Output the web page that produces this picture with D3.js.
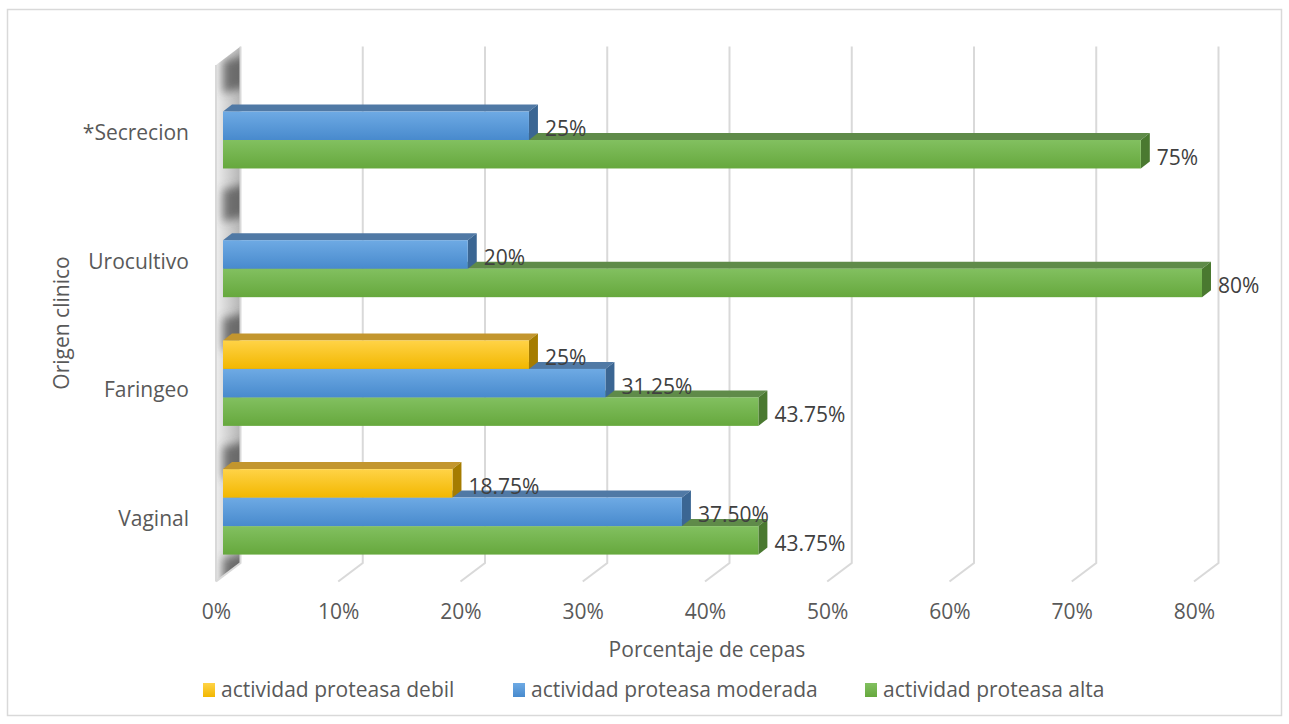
<!DOCTYPE html>
<html>
<head>
<meta charset="utf-8">
<script src="https://cdn.jsdelivr.net/npm/d3@7"></script>
<style>
  html, body { margin: 0; padding: 0; background: #ffffff; }
  svg { display: block; font-family: "Open Sans", "Noto Sans", sans-serif; }
</style>
</head>
<body>
<svg id="chart" width="1289" height="724"></svg>
<script>
// ---- data ----
const categories = ["*Secrecion", "Urocultivo", "Faringeo", "Vaginal"];
const seriesKeys = ["debil", "moderada", "alta"];
const seriesNames = ["actividad proteasa debil", "actividad proteasa moderada", "actividad proteasa alta"];
const debilValues = [null, null, 25, 18.75];
const moderadaValues = [25, 20, 31.25, 37.5];
const altaValues = [75, 80, 43.75, 43.75];
const debilLabels = [null, null, "25%", "18.75%"];
const moderadaLabels = ["25%", "20%", "31.25%", "37.50%"];
const altaLabels = ["75%", "80%", "43.75%", "43.75%"];
const tickValues = [0, 10, 20, 30, 40, 50, 60, 70, 80];
const tickLabels = ["0%", "10%", "20%", "30%", "40%", "50%", "60%", "70%", "80%"];
const xTitle = "Porcentaje de cepas";
const yTitle = "Origen clinico";

// ---- styles ----
const palette = {
  debil:    { top: "#ffd347", bottom: "#f2b700", cap: "#c3962e", side: "#a57c00" },
  moderada: { top: "#6eaae4", bottom: "#488acd", cap: "#5079a5", side: "#3b6693" },
  alta:     { top: "#82c060", bottom: "#66a83d", cap: "#5f8b49", side: "#4a7930" }
};
const values = { debil: debilValues, moderada: moderadaValues, alta: altaValues };
const labels = { debil: debilLabels, moderada: moderadaLabels, alta: altaLabels };

const svg = d3.select("#chart");
const defs = svg.append("defs");

// outer frame
svg.append("rect")
  .attr("x", 7.5).attr("y", 9.5).attr("width", 1274).attr("height", 706)
  .attr("fill", "#ffffff").attr("stroke", "#d9d9d9").attr("stroke-width", 1.5);

// ---- scales ----
const domainMax = 80;
const xFront = d3.scaleLinear().domain([0, domainMax]).range([216, 1194]);
const xBack  = d3.scaleLinear().domain([0, domainMax]).range([240.5, 1218.5]);
const xBar   = d3.scaleLinear().domain([0, domainMax]).range([223, 1202]);
const yCat = d3.scaleBand().domain(categories).range([61.4, 576.2])
  .paddingInner(0.336).paddingOuter(0.168);
const ySer = d3.scaleBand().domain(seriesKeys).range([0, yCat.bandwidth()]);

// floor/back-wall depth (front -> back) and bar depth
const floorDx = 24.5, floorDy = -18.5;
const barDx = 9, barDy = -7;
const wallTop = 46.5, floorBackY = 563;

// ---- gradients ----
seriesKeys.forEach(k => {
  const g = defs.append("linearGradient").attr("id", "grad-" + k)
    .attr("x1", 0).attr("y1", 0).attr("x2", 0).attr("y2", 1);
  g.append("stop").attr("offset", "0%").attr("stop-color", palette[k].top);
  g.append("stop").attr("offset", "100%").attr("stop-color", palette[k].bottom);
});
const wallGrad = defs.append("linearGradient").attr("id", "wall-grad")
  .attr("gradientUnits", "userSpaceOnUse")
  .attr("x1", 216).attr("y1", 0).attr("x2", 241).attr("y2", 0);
wallGrad.append("stop").attr("offset", "0%").attr("stop-color", "#eeeeee");
wallGrad.append("stop").attr("offset", "40%").attr("stop-color", "#d6d6d6");
wallGrad.append("stop").attr("offset", "100%").attr("stop-color", "#b4b4b4");
defs.append("filter").attr("id", "soft").attr("x", "-50%").attr("y", "-50%")
  .attr("width", "200%").attr("height", "200%")
  .append("feGaussianBlur").attr("stdDeviation", 4);

// ---- back gridlines with floor segments ----
const grid = svg.append("g").attr("fill", "none").attr("stroke", "#d9d9d9").attr("stroke-width", 2);
grid.selectAll("path").data(tickValues.slice(1)).join("path")
  .attr("d", v => `M${xBack(v)},${wallTop} L${xBack(v)},${floorBackY} L${xBack(v) - floorDx},${floorBackY - floorDy}`);

// ---- left side wall ----
const wallPts = [
  [xFront(0), wallTop - floorDy], [xBack(0), wallTop],
  [xBack(0), floorBackY], [xFront(0), floorBackY - floorDy]
];
defs.append("clipPath").attr("id", "wall-clip")
  .append("polygon").attr("points", wallPts.map(p => p.join(",")).join(" "));
const wall = svg.append("g");
wall.append("polygon").attr("points", wallPts.map(p => p.join(",")).join(" "))
  .attr("fill", "url(#wall-grad)");
// soft shadows cast on the wall above each group of bars and below the last one
const shade = wall.append("g").attr("clip-path", "url(#wall-clip)")
  .append("g").attr("filter", "url(#soft)");
const shadowBands = categories.map(c => [yCat(c) - 22, yCat(c) + 10]);
const lastCat = categories[categories.length - 1];
shadowBands.push([yCat(lastCat) + yCat.bandwidth() + 4, floorBackY - floorDy + 10]);
shade.selectAll("polygon").data(shadowBands).join("polygon")
  .attr("points", d => [
    [223, d[0]], [248, d[0] - 6], [248, d[1] - 6], [223, d[1]]
  ].map(p => p.join(",")).join(" "))
  .attr("fill", "#505050").attr("opacity", 0.75);
wall.append("line")
  .attr("x1", xFront(0)).attr("x2", xFront(0))
  .attr("y1", wallTop - floorDy).attr("y2", floorBackY - floorDy)
  .attr("stroke", "#d9d9d9").attr("stroke-width", 2);
wall.append("path")
  .attr("d", `M${xBack(0)},${wallTop} L${xBack(0)},${floorBackY} L${xFront(0)},${floorBackY - floorDy}`)
  .attr("fill", "none").attr("stroke", "#d9d9d9").attr("stroke-width", 2);

// ---- 3D bars (lowest series first so upper faces sit in front) ----
const bars = svg.append("g");
["alta", "moderada", "debil"].forEach(k => {
  categories.forEach((c, i) => {
    const v = values[k][i];
    if (v == null) return;
    const x0 = xBar(0), x1 = xBar(v);
    const yT = yCat(c) + ySer(k), yB = yT + ySer.bandwidth();
    const g = bars.append("g");
    g.append("polygon")
      .attr("points", [[x0, yT], [x1, yT], [x1 + barDx, yT + barDy], [x0 + barDx, yT + barDy]].map(p => p.join(",")).join(" "))
      .attr("fill", palette[k].cap);
    g.append("polygon")
      .attr("points", [[x1, yT], [x1 + barDx, yT + barDy], [x1 + barDx, yB + barDy], [x1, yB]].map(p => p.join(",")).join(" "))
      .attr("fill", palette[k].side);
    g.append("rect")
      .attr("x", x0).attr("y", yT).attr("width", x1 - x0).attr("height", yB - yT)
      .attr("fill", `url(#grad-${k})`);
  });
});

// ---- data labels ----
const labelG = svg.append("g").attr("font-size", 21).attr("fill", "#404040");
seriesKeys.forEach(k => {
  categories.forEach((c, i) => {
    const v = values[k][i];
    if (v == null) return;
    labelG.append("text")
      .attr("x", xBar(v) + 16)
      .attr("y", yCat(c) + ySer(k) + ySer.bandwidth() / 2 + 3)
      .attr("dy", "0.35em")
      .text(labels[k][i]);
  });
});

// ---- x axis tick labels ----
const xAxis = d3.axisBottom(xFront).tickValues(tickValues)
  .tickFormat((d, i) => tickLabels[i]).tickSize(0).tickPadding(23);
const xg = svg.append("g").attr("transform", `translate(0,${floorBackY - floorDy})`).call(xAxis);
xg.select(".domain").remove();
xg.selectAll("text").attr("font-size", 21).attr("fill", "#595959")
  .attr("font-family", "Open Sans, Noto Sans, sans-serif");

// ---- category labels ----
const yAxis = d3.axisLeft(yCat).tickSize(0).tickPadding(0);
const yg = svg.append("g").attr("transform", "translate(189,7.5)").call(yAxis);
yg.select(".domain").remove();
yg.selectAll("text").attr("font-size", 21).attr("fill", "#595959")
  .attr("font-family", "Open Sans, Noto Sans, sans-serif");

// ---- axis titles ----
svg.append("text").attr("x", 707).attr("y", 650).attr("dy", "0.35em")
  .attr("text-anchor", "middle").attr("font-size", 21).attr("fill", "#595959").text(xTitle);
svg.append("text").attr("transform", "translate(62,323) rotate(-90)").attr("dy", "0.35em")
  .attr("text-anchor", "middle").attr("font-size", 21).attr("fill", "#595959").text(yTitle);

// ---- legend ----
const legendX = [203, 513, 865];
const legend = svg.append("g").selectAll("g").data(seriesKeys).join("g")
  .attr("transform", (d, i) => `translate(${legendX[i]},690)`);
legend.append("rect").attr("x", 0).attr("y", -7).attr("width", 12).attr("height", 14)
  .attr("fill", d => `url(#grad-${d})`);
legend.append("text").attr("x", 18).attr("dy", "0.35em")
  .attr("font-size", 21).attr("fill", "#595959")
  .text((d, i) => seriesNames[i]);
</script>
</body>
</html>
